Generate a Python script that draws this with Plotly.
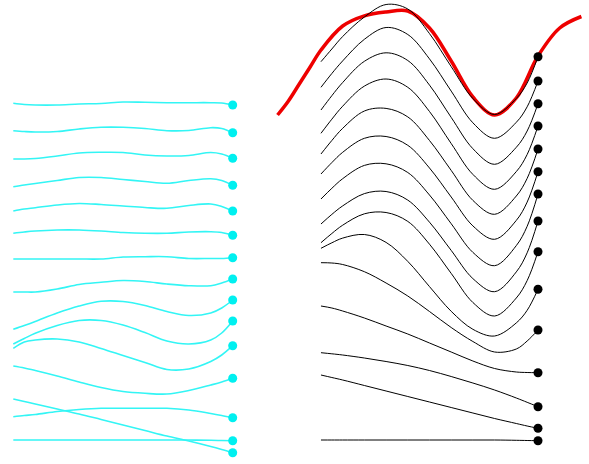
import plotly.graph_objects as go

# common sample positions along each curve (0 = left end, 1 = right end with dot)
t = [0, 0.05, 0.1, 0.2, 0.3, 0.4, 0.5, 0.6, 0.7, 0.8, 0.9, 0.95, 1.0]

# left panel: individual components (cyan), vertical positions (top = 0)
comp_1 = [103.3, 104.5, 105, 105, 104, 103.5, 102, 102.3, 102.7, 102.7, 102.7, 103, 105]
comp_2 = [130.7, 131.5, 132, 131.5, 129, 127.3, 127.3, 128.5, 130.7, 130.5, 127.7, 128.5, 132.7]
comp_3 = [159, 159, 158.5, 156, 153, 152.3, 152.5, 155, 156, 155.5, 152.5, 154, 158.3]
comp_4 = [186.7, 185, 183.5, 180.5, 177.5, 177.5, 179.5, 181.5, 183.3, 180.5, 178.7, 180.5, 185.3]
comp_5 = [211, 209, 207.7, 205, 203.5, 204.5, 206, 207.5, 208.3, 205.5, 204, 206.5, 211]
comp_6 = [233.3, 232, 231, 230, 230, 231, 232.5, 233.3, 233.3, 232, 231.7, 232.5, 235.3]
comp_7 = [259, 259, 259, 259, 259, 259, 257, 256.7, 256.7, 258.5, 258.5, 258.5, 257.7]
comp_8 = [292, 292, 292, 289, 284.5, 282.3, 280.5, 281.5, 284, 285.7, 285.7, 283, 279]
comp_9 = [329.3, 325.5, 321.5, 313, 306, 301.3, 301.5, 305.5, 311.5, 315.5, 313, 308, 300]
comp_10 = [344, 338.5, 333.3, 325.5, 320.5, 320.5, 325, 332.5, 341, 344, 340, 333, 321]
comp_11 = [348.3, 342, 340, 339, 342, 348.5, 355.5, 362.5, 369.5, 369, 361.5, 355, 345.7]
comp_12 = [366, 368, 370.5, 376, 382, 387.5, 391.5, 393.3, 394, 390.5, 385, 382, 378.3]
comp_13 = [416.7, 415.5, 414.5, 411.5, 409.5, 408.3, 408.3, 408.3, 408.3, 410, 413.5, 415.5, 417.7]
comp_14 = [399, 401.5, 404, 409, 414, 419.5, 425, 430.5, 436, 441, 446.5, 449.5, 452.7]
comp_15 = [440, 440, 440, 440, 440, 440, 440, 440, 440, 440, 440.3, 440.5, 440.7]

# right panel: cumulative sums (black)
sum_1 = [61.7, 49, 36.5, 17, 4.5, 9, 33.6, 66.6, 98.5, 114.5, 98.5, 83, 56.7]
sum_2 = [87.3, 73.5, 60.9, 39.3, 27.5, 34.5, 58.9, 91.1, 122.8, 138.3, 122.3, 106.8, 81]
sum_3 = [110, 95.7, 82.5, 61.3, 52.8, 60.5, 85.1, 117.4, 148.7, 164.3, 147.3, 131, 103.7]
sum_4 = [133.3, 119.2, 106.2, 86.1, 79, 87.3, 111.5, 143.5, 174.4, 189.3, 171.6, 154.5, 126]
sum_5 = [154, 140.5, 128.3, 111, 108.4, 116.9, 140.5, 170.4, 200.4, 214.3, 196, 178.4, 149]
sum_6 = [174, 162.6, 152.3, 138.3, 136.5, 145.3, 168, 197, 225.9, 239.3, 220.4, 202.1, 171.7]
sum_7 = [199, 188.3, 178.7, 165.4, 163.8, 172.5, 195, 223.7, 252.4, 265.7, 245.6, 226.3, 194]
sum_8 = [224, 214.4, 205.9, 193.6, 191.5, 200.1, 222.2, 250.4, 278.6, 291.7, 271.9, 252.8, 221]
sum_9 = [242.7, 233.5, 225.2, 213.8, 212.5, 221.4, 244.2, 273.4, 302.5, 316, 298, 280.6, 251.7]
sum_10 = [248.3, 242.8, 238.1, 234.5, 242.4, 261.4, 286.6, 311.3, 329.3, 336, 322.9, 310.3, 289.3]
sum_11 = [262.7, 263, 264.5, 271.7, 283, 296, 311.5, 327.5, 341.5, 352, 349, 341, 330]
sum_12 = [306, 308, 311, 318, 326, 334, 343, 352, 361, 368.5, 372, 372.5, 372.7]
sum_13 = [352.7, 353.8, 355, 358, 361.5, 365.5, 370.5, 376.5, 383, 390, 398, 402.3, 406.7]
sum_14 = [375, 377.5, 380, 385.5, 391, 396.5, 402, 407.5, 413, 418.5, 423.5, 426, 428.3]
sum_15 = [440, 440, 440, 440, 440, 440, 440, 440, 440, 440, 440.3, 440.5, 440.7]

# target curve (red), extends beyond the sums on both sides
t_target = [-0.2, -0.15, -0.1, -0.05, 0, 0.1, 0.2, 0.3, 0.4, 0.5, 0.6, 0.7, 0.8, 0.9, 1.0, 1.1, 1.2]
target = [115, 101, 84, 67, 50, 26, 15.8, 12, 11, 28, 61, 97, 115, 98, 56, 28, 16.5]

components = [comp_1, comp_2, comp_3, comp_4, comp_5, comp_6, comp_7, comp_8,
              comp_9, comp_10, comp_11, comp_12, comp_13, comp_14, comp_15]
sums = [sum_1, sum_2, sum_3, sum_4, sum_5, sum_6, sum_7, sum_8,
        sum_9, sum_10, sum_11, sum_12, sum_13, sum_14, sum_15]

CYAN = "#33f5f5"
fig = go.Figure()

for c in components:
    fig.add_trace(go.Scatter(x=t, y=c, mode="lines", xaxis="x", yaxis="y",
                             line=dict(color=CYAN, width=1.6, shape="spline", smoothing=1.0),
                             hoverinfo="skip", showlegend=False))
fig.add_trace(go.Scatter(x=[t[-1]] * len(components), y=[c[-1] for c in components],
                         mode="markers", xaxis="x", yaxis="y",
                         marker=dict(color="#00f0f0", size=9, line=dict(width=0)),
                         showlegend=False))

fig.add_trace(go.Scatter(x=t_target, y=target, mode="lines", xaxis="x2", yaxis="y",
                         line=dict(color="#ee0000", width=3.5, shape="spline", smoothing=1.0),
                         showlegend=False))
for s in sums:
    fig.add_trace(go.Scatter(x=t, y=s, mode="lines", xaxis="x2", yaxis="y",
                             line=dict(color="black", width=1, shape="spline", smoothing=1.0),
                             hoverinfo="skip", showlegend=False))
fig.add_trace(go.Scatter(x=[t[-1]] * len(sums), y=[s[-1] for s in sums],
                         mode="markers", xaxis="x2", yaxis="y",
                         marker=dict(color="black", size=9, line=dict(width=0)),
                         showlegend=False))

hidden = dict(showgrid=False, zeroline=False, showticklabels=False, showline=False, ticks="")
fig.update_layout(
    width=589, height=464,
    margin=dict(l=0, r=0, t=0, b=0),
    paper_bgcolor="white", plot_bgcolor="white",
    xaxis=dict(range=[-0.0606, 2.624], domain=[0, 1], **hidden),
    xaxis2=dict(range=[-1.479, 1.235], domain=[0, 1], overlaying="x", **hidden),
    yaxis=dict(range=[464, 0], domain=[0, 1], **hidden),
)

fig.write_html("out.html")
